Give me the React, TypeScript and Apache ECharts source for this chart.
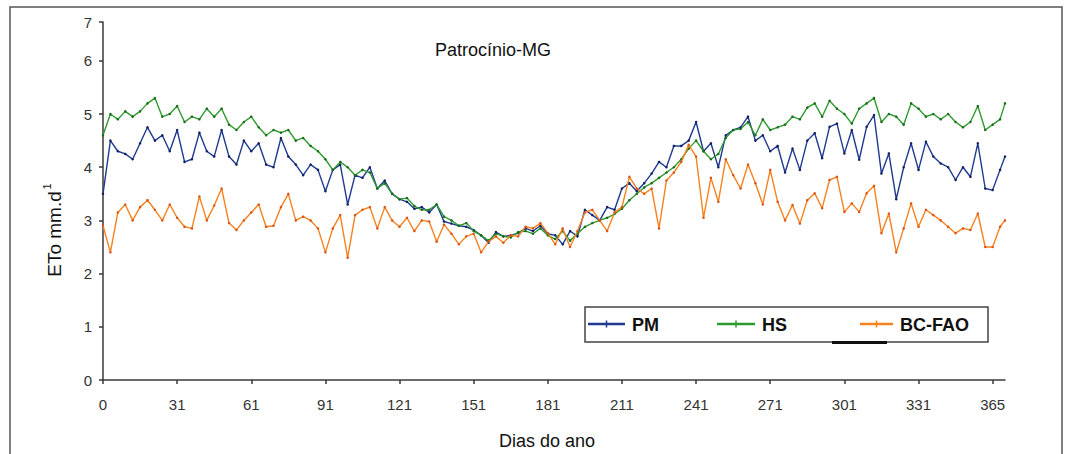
import React, { useEffect, useRef } from "react";
import * as echarts from "echarts";

const DAYS = [
  0, 3, 6, 9, 12, 15, 18, 21, 24, 27,
  30, 33, 36, 39, 42, 45, 48, 51, 54, 57,
  60, 63, 66, 69, 72, 75, 78, 81, 84, 87,
  90, 93, 96, 99, 102, 105, 108, 111, 114, 117,
  120, 123, 126, 129, 132, 135, 138, 141, 144, 147,
  150, 153, 156, 159, 162, 165, 168, 171, 174, 177,
  180, 183, 186, 189, 192, 195, 198, 201, 204, 207,
  210, 213, 216, 219, 222, 225, 228, 231, 234, 237,
  240, 243, 246, 249, 252, 255, 258, 261, 264, 267,
  270, 273, 276, 279, 282, 285, 288, 291, 294, 297,
  300, 303, 306, 309, 312, 315, 318, 321, 324, 327,
  330, 333, 336, 339, 342, 345, 348, 351, 354, 357,
  360, 363, 365,
];

const PM = [
  3.5, 4.5, 4.3, 4.25, 4.15, 4.45, 4.75, 4.5, 4.6, 4.3,
  4.7, 4.1, 4.15, 4.65, 4.3, 4.2, 4.7, 4.2, 4.05, 4.5,
  4.3, 4.45, 4.05, 4.0, 4.55, 4.2, 4.05, 3.85, 4.05, 3.95,
  3.55, 3.95, 4.05, 3.3, 3.85, 3.8, 4.0, 3.6, 3.75, 3.5,
  3.4, 3.35, 3.22, 3.25, 3.15, 3.3, 2.98, 2.94, 2.9, 2.88,
  2.82, 2.72, 2.58, 2.78, 2.7, 2.72, 2.76, 2.85, 2.8, 2.9,
  2.75, 2.72, 2.55, 2.8, 2.7, 3.2, 3.1, 3.0, 3.25, 3.2,
  3.6, 3.7, 3.55, 3.7, 3.88, 4.1, 4.0, 4.4, 4.4, 4.5,
  4.85, 4.3, 4.45, 4.0, 4.6, 4.7, 4.75, 4.95, 4.5, 4.6,
  4.3, 4.4, 3.9, 4.35, 3.95, 4.5, 4.64, 4.17, 4.76, 4.82,
  4.26, 4.7, 4.14, 4.76, 4.98, 3.88, 4.26, 3.4, 4.0, 4.45,
  3.95, 4.48, 4.2, 4.07, 4.0, 3.76, 4.0, 3.82, 4.45, 3.6,
  3.57, 3.95, 4.2,
];

const HS = [
  4.6, 5.0, 4.9, 5.05, 4.95, 5.05, 5.2, 5.3, 4.95, 5.0,
  5.15, 4.85, 4.95, 4.9, 5.1, 4.95, 5.1, 4.8, 4.7, 4.85,
  4.95, 4.75, 4.6, 4.7, 4.65, 4.7, 4.5, 4.55, 4.4, 4.3,
  4.15, 3.95, 4.1, 4.0, 3.85, 3.95, 3.9, 3.6, 3.7, 3.5,
  3.4, 3.42, 3.27, 3.2, 3.2, 3.3, 3.07, 3.0, 2.9, 2.95,
  2.8, 2.72, 2.62, 2.75, 2.7, 2.68, 2.78, 2.8, 2.75, 2.85,
  2.72, 2.65, 2.8, 2.62, 2.75, 2.88, 2.95, 3.0, 3.05, 3.12,
  3.22, 3.38, 3.5, 3.62, 3.7, 3.8, 3.9, 4.0, 4.15, 4.35,
  4.5, 4.3, 4.15, 4.25, 4.55, 4.7, 4.72, 4.85, 4.6, 4.9,
  4.7, 4.75, 4.8, 4.95, 4.9, 5.12, 5.2, 4.95, 5.25, 5.1,
  5.0, 4.82, 5.1, 5.2, 5.3, 4.85, 5.0, 4.95, 4.8, 5.2,
  5.1, 4.95, 5.0, 4.9, 5.0, 4.85, 4.75, 4.85, 5.15, 4.7,
  4.8, 4.9, 5.2,
];

const BC_FAO = [
  2.9, 2.4, 3.15, 3.3, 3.0, 3.25, 3.38, 3.2, 3.0, 3.3,
  3.05, 2.88, 2.85, 3.45, 3.0, 3.28, 3.6, 2.95, 2.82, 3.0,
  3.15, 3.3, 2.88, 2.9, 3.25, 3.5, 3.0, 3.07, 3.0, 2.85,
  2.4, 2.85, 3.1, 2.3, 3.1, 3.2, 3.25, 2.85, 3.25, 3.0,
  2.88, 3.05, 2.8, 3.0, 2.98, 2.6, 2.92, 2.75, 2.55, 2.7,
  2.75, 2.4, 2.6, 2.7, 2.58, 2.72, 2.7, 2.88, 2.85, 2.95,
  2.76, 2.55, 2.85, 2.5, 2.8, 3.15, 3.2, 3.0, 2.8, 3.15,
  3.25, 3.82, 3.6, 3.5, 3.6, 2.85, 3.75, 3.9, 4.1, 4.42,
  4.2, 3.05, 3.8, 3.35, 4.15, 3.85, 3.6, 4.05, 3.7, 3.3,
  3.95, 3.35, 3.0, 3.29, 2.94, 3.38, 3.51, 3.23, 3.76, 3.82,
  3.16, 3.32, 3.16, 3.51, 3.65, 2.76, 3.13, 2.4, 2.85, 3.32,
  2.88, 3.2, 3.1, 3.0, 2.88, 2.76, 2.85, 2.82, 3.13, 2.5,
  2.5, 2.88, 3.0,
];

const X_TICK_POS = [0, 30, 60, 90, 120, 150, 180, 210, 240, 270, 300, 330, 360];
const X_TICK_LABELS = ["0", "31", "61", "91", "121", "151", "181", "211", "241", "271", "301", "331", "365"];
const Y_TICK_POS = [0, 1, 2, 3, 4, 5, 6, 6.73];
const Y_TICK_LABELS = ["0", "1", "2", "3", "4", "5", "6", "7"];

const SERIES_NAMES = ["PM", "HS", "BC-FAO"];
const LINE_COLORS = ["#1f3a8f", "#2f9a2f", "#f5821f"];
const DOT_COLORS = ["#12205e", "#1d6a1d", "#d9541a"];

const FONT = '"Liberation Sans", Arial, sans-serif';

export default function App() {
  const ref = useRef<HTMLDivElement>(null);

  useEffect(() => {
    if (!ref.current) return;
    const chart = echarts.init(ref.current, null, { renderer: "svg" });
    const seriesData = [PM, HS, BC_FAO];

    const series = seriesData.map((vals, k) => ({
      name: SERIES_NAMES[k],
      type: "line",
      data: DAYS.map((d, i) => [d, vals[i]]),
      showSymbol: true,
      symbol: "circle",
      symbolSize: 2.5,
      lineStyle: { color: LINE_COLORS[k], width: 1.4 },
      itemStyle: { color: DOT_COLORS[k] },
      emphasis: { disabled: true },
      z: 2 + k,
    }));

    const axisColor = "#3a3a3a";

    const legendItems: any[] = [];
    const legendDefs = [
      { x1: 588, x2: 625, tx: 632, label: "PM" },
      { x1: 717, x2: 755, tx: 762, label: "HS" },
      { x1: 860, x2: 893, tx: 900, label: "BC-FAO" },
    ];
    legendDefs.forEach((l, k) => {
      legendItems.push({
        type: "line",
        shape: { x1: l.x1, y1: 324, x2: l.x2, y2: 324 },
        style: { stroke: LINE_COLORS[k], lineWidth: 2.5 },
        z: 101,
      });
      const mid = (l.x1 + l.x2) / 2;
      legendItems.push({
        type: "line",
        shape: { x1: mid, y1: 320.5, x2: mid, y2: 327.5 },
        style: { stroke: LINE_COLORS[k], lineWidth: 1.5 },
        z: 101,
      });
      legendItems.push({
        type: "text",
        x: l.tx,
        y: 325,
        style: {
          text: l.label,
          font: `bold 18px ${FONT}`,
          fill: "#111",
          textAlign: "left",
          textVerticalAlign: "middle",
        },
        z: 101,
      });
    });

    const option: any = {
      animation: false,
      backgroundColor: "#ffffff",
      grid: { left: 103, right: 64, top: 22, bottom: 74, containLabel: false, outerBoundsMode: "none" },
      xAxis: {
        type: "value",
        min: 0,
        max: 365,
        interval: 30,
        axisLine: { show: true, onZero: false, lineStyle: { color: axisColor, width: 1.5 } },
        axisTick: {
          show: true,
          length: 4,
          customValues: X_TICK_POS,
          lineStyle: { color: axisColor, width: 1.5 },
        },
        axisLabel: {
          customValues: X_TICK_POS,
          margin: 17,
          fontSize: 15,
          color: "#333",
          fontFamily: FONT,
          formatter: (v: number) => {
            const i = X_TICK_POS.indexOf(Math.round(v));
            return i >= 0 ? X_TICK_LABELS[i] : "";
          },
        },
        splitLine: { show: false },
      },
      yAxis: {
        type: "value",
        min: 0,
        max: 6.73,
        interval: 1,
        axisLine: { show: true, onZero: false, lineStyle: { color: axisColor, width: 1.5 } },
        axisTick: {
          show: true,
          length: 4,
          customValues: Y_TICK_POS,
          lineStyle: { color: axisColor, width: 1.5 },
        },
        axisLabel: {
          customValues: Y_TICK_POS,
          margin: 11,
          fontSize: 15,
          color: "#333",
          fontFamily: FONT,
          formatter: (v: number) => {
            let best = 0;
            Y_TICK_POS.forEach((p, i) => {
              if (Math.abs(p - v) < Math.abs(Y_TICK_POS[best] - v)) best = i;
            });
            return Y_TICK_LABELS[best];
          },
        },
        splitLine: { show: false },
      },
      series,
      graphic: [
        {
          type: "rect",
          shape: { x: 10, y: 7, width: 1052, height: 470 },
          style: { fill: "none", stroke: "#555", lineWidth: 1.5 },
          z: -1,
          silent: true,
        },
        {
          type: "text",
          x: 493,
          y: 50,
          style: {
            text: "Patrocínio-MG",
            font: `18px ${FONT}`,
            fill: "#111",
            textAlign: "center",
            textVerticalAlign: "middle",
          },
        },
        {
          type: "group",
          x: 54,
          y: 231,
          rotation: Math.PI / 2,
          children: [
            {
              type: "text",
              x: -3,
              y: 0,
              style: {
                text: "ETo mm.d",
                font: `19px ${FONT}`,
                fill: "#111",
                textAlign: "center",
                textVerticalAlign: "middle",
              },
            },
            {
              type: "text",
              x: 41.5,
              y: -7,
              style: {
                text: "1",
                font: `11px ${FONT}`,
                fill: "#111",
                textAlign: "left",
                textVerticalAlign: "middle",
              },
            },
          ],
        },
        {
          type: "text",
          x: 547,
          y: 441,
          style: {
            text: "Dias do ano",
            font: `18px ${FONT}`,
            fill: "#111",
            textAlign: "center",
            textVerticalAlign: "middle",
          },
        },
        {
          type: "rect",
          shape: { x: 585, y: 307, width: 403, height: 35 },
          style: { fill: "#ffffff", stroke: "#444", lineWidth: 1.5 },
          z: 100,
        },
        {
          type: "rect",
          shape: { x: 832, y: 341, width: 55, height: 3 },
          style: { fill: "#111" },
          z: 100,
        },
        ...legendItems,
      ],
    };

    chart.setOption(option);
    return () => chart.dispose();
  }, []);

  return (
    <div
      ref={ref}
      style={{ position: "fixed", left: 0, top: 0, width: 1069, height: 454, background: "#fff" }}
    />
  );
}
